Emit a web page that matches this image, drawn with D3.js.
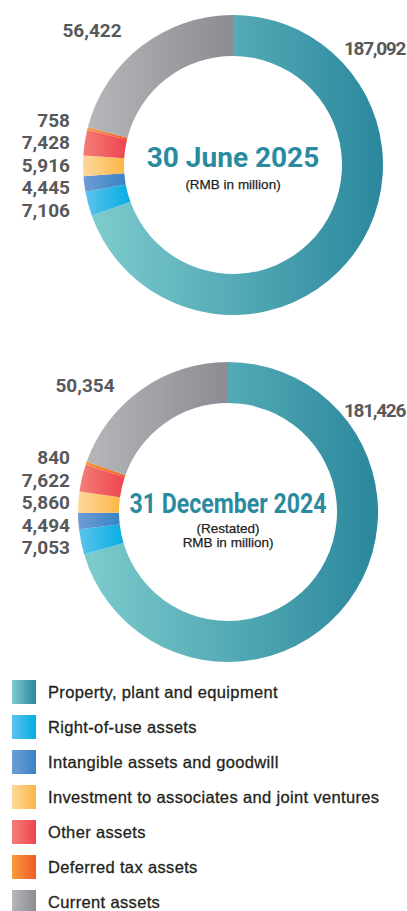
<!DOCTYPE html>
<html><head><meta charset="utf-8">
<script src="https://cdn.jsdelivr.net/npm/d3@7/dist/d3.min.js"></script>
<style>html,body{margin:0;padding:0;background:#fff;} svg{display:block}</style>
</head><body><svg id="c" width="407" height="911"></svg>
<script>
const categories = ["Property, plant and equipment","Right-of-use assets","Intangible assets and goodwill","Investment to associates and joint ventures","Other assets","Deferred tax assets","Current assets"];
const values2025 = [187092, 7106, 4445, 5916, 7428, 758, 56422];
const values2024 = [181426, 7053, 4494, 5860, 7622, 840, 50354];
const titles = ["30 June 2025", "31 December 2024"];
const subtitles = [["(RMB in million)"], ["(Restated)", "RMB in million)"]];
const colorsLight = ["#7dcccd", "#5cc3ec", "#6d9dd4", "#fdd89c", "#f47e78", "#f89c3c", "#b6b7ba"];
const colorsDark  = ["#2a879d", "#06ade4", "#3b83c4", "#fbb746", "#ee444f", "#f05a28", "#8b8c91"];

const svg = d3.select("#c");
const defs = svg.append("defs");
categories.forEach((c, i) => {
  const g = defs.append("linearGradient").attr("id", "g" + i)
    .attr("x1", 0).attr("y1", 0).attr("x2", 1).attr("y2", 0);
  g.append("stop").attr("offset", 0).attr("stop-color", colorsLight[i]);
  g.append("stop").attr("offset", 1).attr("stop-color", colorsDark[i]);
});

const fmt = d3.format(",");
const R = 150, r = 109;
const arc = d3.arc().innerRadius(r).outerRadius(R);
const labelArc = d3.arc().innerRadius((r + R) / 2).outerRadius((r + R) / 2);
const pie = d3.pie().sort(null).value(d => d);

const charts = [
  {values: values2025, cx: 233, cy: 165, title: titles[0], sub: subtitles[0], titleDy: 2, titleLen: null, subDy: [24],
   big: {0: {dx: 172, dy: -110, anchor: "end", ls: -1.3}, 6: {dx: -141, dy: -128, anchor: "middle", ls: 0}}},
  {values: values2024, cx: 228, cy: 512, title: titles[1], sub: subtitles[1], titleDy: 1, titleLen: 197, subDy: [21, 35],
   big: {0: {dx: 177, dy: -95, anchor: "end", ls: -1.3}, 6: {dx: -143, dy: -120, anchor: "middle", ls: 0}}}
];

const numFont = "Roboto, 'Liberation Sans', sans-serif";
const txtFont = "'Liberation Sans', Arial, sans-serif";
charts.forEach(ch => {
  const g = svg.append("g").attr("transform", `translate(${ch.cx},${ch.cy})`);
  const arcs = pie(ch.values);
  g.selectAll("path").data(arcs).enter().append("path")
    .attr("d", arc)
    .attr("fill", (d, i) => `url(#g${i})`);

  Object.keys(ch.big).forEach(k => {
    const p = ch.big[k];
    g.append("text").attr("x", p.dx).attr("y", p.dy)
      .attr("text-anchor", p.anchor)
      .style("font-family", numFont).style("font-weight", 700).style("font-size", "19px")
      .style("letter-spacing", p.ls + "px")
      .style("fill", "#58595b").text(fmt(ch.values[+k]));
  });

  const small = [5, 4, 3, 2, 1];
  const ys = small.map(i => labelArc.centroid(arcs[i])[1]);
  const mean = d3.mean(ys);
  const step = 22.5;
  small.forEach((i, k) => {
    g.append("text").attr("x", 70 - ch.cx)
      .attr("y", mean + (k - (small.length - 1) / 2) * step)
      .attr("dy", "0.35em")
      .attr("text-anchor", "end")
      .style("font-family", numFont).style("font-weight", 700).style("font-size", "19px")
      .style("fill", "#58595b").text(fmt(ch.values[i]));
  });

  const t = g.append("text").attr("x", 0).attr("y", ch.titleDy).attr("text-anchor", "middle")
    .style("font-family", numFont).style("font-weight", 700).style("font-size", "28px")
    .style("fill", "#2a8ba0").text(ch.title);
  if (ch.titleLen) t.attr("textLength", ch.titleLen).attr("lengthAdjust", "spacingAndGlyphs");
  ch.sub.forEach((s, j) => {
    g.append("text").attr("x", 0).attr("y", ch.subDy[j]).attr("text-anchor", "middle")
      .style("font-family", txtFont).style("font-size", "13.5px")
      .style("fill", "#231f20").style("stroke", "#231f20").style("stroke-width", 0.25).text(s);
  });
});

const lg = svg.append("g").attr("transform", "translate(12,680)");
const rows = lg.selectAll("g").data(categories).enter().append("g")
  .attr("transform", (d, i) => `translate(0,${i * 35})`);
rows.append("rect").attr("width", 24).attr("height", 24).attr("fill", (d, i) => `url(#g${i})`);
rows.append("text").attr("x", 36).attr("y", 18)
  .style("font-family", txtFont).style("font-size", "16.5px").style("letter-spacing", "0.35px")
  .style("fill", "#231f20").style("stroke", "#231f20").style("stroke-width", 0.3)
  .text(d => d);
</script></body></html>
